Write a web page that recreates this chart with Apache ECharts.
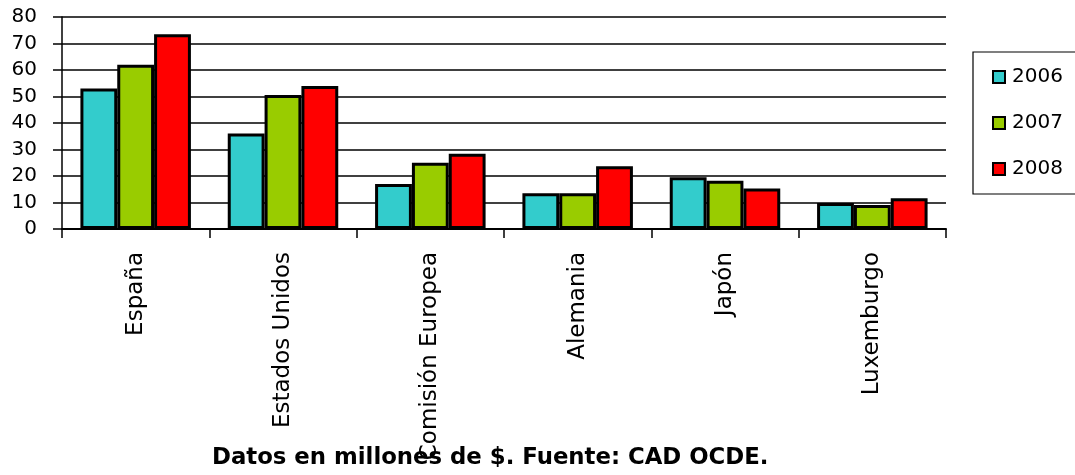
<!DOCTYPE html>
<html><head><meta charset="utf-8">
<script src="https://cdn.jsdelivr.net/npm/echarts@6/dist/echarts.min.js"></script>
<style>html,body{margin:0;padding:0;background:#fff}#c{width:1075px;height:475px}</style>
</head><body><div id="c"></div>
<script>
const categories = ["España", "Estados Unidos", "Comisión Europea", "Alemania", "Japón", "Luxemburgo"];
const seriesNames = ["2006", "2007", "2008"];
const values2006 = [53, 36, 17, 13.5, 19.5, 9.8];
const values2007 = [62, 50.6, 25, 13.5, 18.2, 9.1];
const values2008 = [73.5, 54, 28.4, 23.7, 15.3, 11.6];
const colors = ["#33CCCC", "#99CC00", "#FF0000"];
const yTicks = [0, 10, 20, 30, 40, 50, 60, 70, 80];
const titleText = "Datos en millones de $. Fuente: CAD OCDE.";

const FONT = '"DejaVu Sans", "Liberation Sans", Arial, sans-serif';
const chart = echarts.init(document.getElementById('c'), null, {renderer: 'canvas'});
const data = [values2006, values2007, values2008];
chart.setOption({
  animation: false,
  backgroundColor: '#fff',
  title: {
    text: titleText,
    left: 212, top: 447,
    padding: 0,
    textStyle: {fontFamily: FONT, fontWeight: 'bold', fontSize: 22.8, color: '#000'}
  },
  legend: {
    orient: 'vertical',
    left: 973, top: 52,
    padding: [15, 25, 15, 19],
    itemGap: 26,
    itemWidth: 12, itemHeight: 12,
    itemStyle: {borderColor: '#000', borderWidth: 2},
    icon: 'rect',
    borderColor: '#000', borderWidth: 1.2,
    textStyle: {fontFamily: FONT, fontSize: 20, color: '#000', lineHeight: 20, padding: [0, 0, 0, 2]},
    data: seriesNames
  },
  grid: {left: 62, right: 129, top: 17, bottom: 246, containLabel: false},
  xAxis: {
    type: 'category',
    data: categories,
    axisLine: {lineStyle: {color: '#000', width: 2}},
    axisTick: {show: true, length: 9, lineStyle: {color: '#000', width: 1.5}},
    axisLabel: {rotate: 90, margin: 23, fontSize: 23, color: '#000', fontFamily: FONT}
  },
  yAxis: {
    type: 'value',
    min: yTicks[0], max: yTicks[yTicks.length - 1], interval: 10,
    axisLine: {show: true, lineStyle: {color: '#000', width: 1.5}},
    axisTick: {show: true, length: 9, lineStyle: {color: '#000', width: 1.5}},
    axisLabel: {margin: 25, fontSize: 20, color: '#000', fontFamily: FONT},
    splitLine: {show: true, lineStyle: {color: '#000', width: 1.5}}
  },
  series: seriesNames.map((n, i) => ({
    name: n,
    type: 'bar',
    data: data[i],
    barGap: '0%',
    barCategoryGap: '25%',
    itemStyle: {color: colors[i], borderColor: '#000', borderWidth: 3}
  }))
});
</script>
</body></html>
